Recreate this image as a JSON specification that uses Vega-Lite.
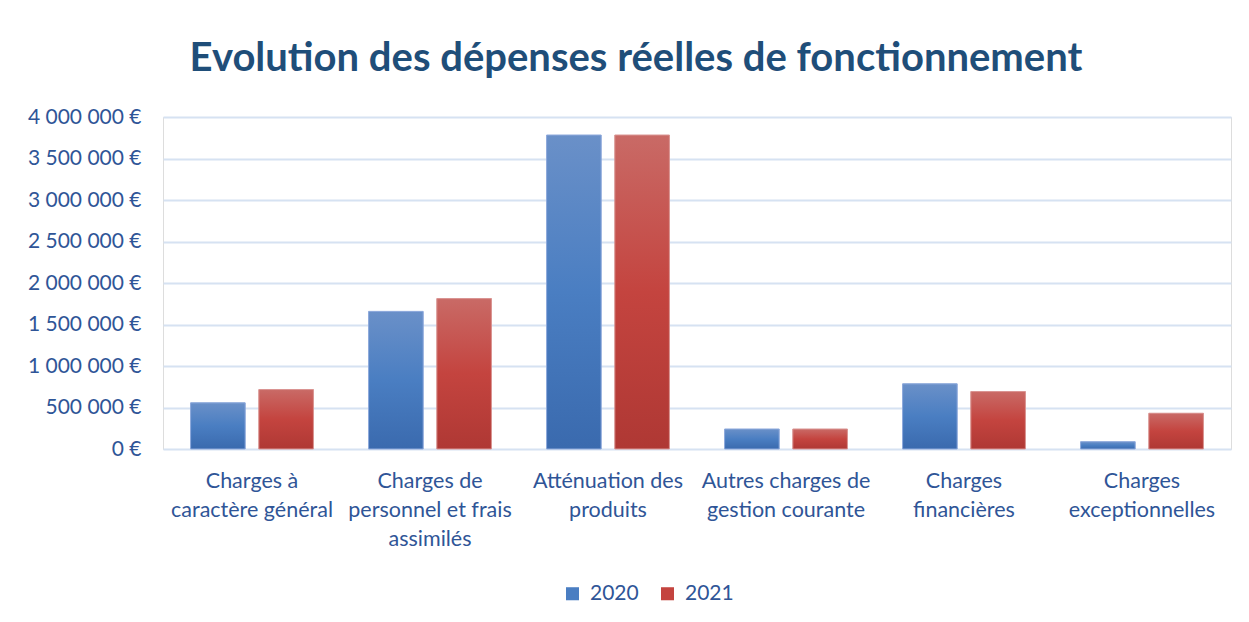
{
  "$schema": "https://vega.github.io/schema/vega-lite/v6.json",
  "width": 1068,
  "height": 332,
  "autosize": {"type": "none"},
  "padding": {"left": 163, "top": 117, "right": 18, "bottom": 173},
  "background": "white",
  "title": {
    "text": "Evolution des dépenses réelles de fonctionnement",
    "font": "Lato",
    "fontSize": 40,
    "fontWeight": "bold",
    "color": "#1F4E79",
    "anchor": "middle",
    "baseline": "alphabetic",
    "offset": 42,
    "dx": -61,
    "dy": 47
  },
  "data": {
    "values": [
      {"categorie": "Charges à\ncaractère général", "annee": "2020", "montant": 556000},
      {"categorie": "Charges à\ncaractère général", "annee": "2021", "montant": 716000},
      {"categorie": "Charges de\npersonnel et frais\nassimilés", "annee": "2020", "montant": 1658000},
      {"categorie": "Charges de\npersonnel et frais\nassimilés", "annee": "2021", "montant": 1812000},
      {"categorie": "Atténuation des\nproduits", "annee": "2020", "montant": 3783000},
      {"categorie": "Atténuation des\nproduits", "annee": "2021", "montant": 3783000},
      {"categorie": "Autres charges de\ngestion courante", "annee": "2020", "montant": 241000},
      {"categorie": "Autres charges de\ngestion courante", "annee": "2021", "montant": 241000},
      {"categorie": "Charges\nfinancières", "annee": "2020", "montant": 785000},
      {"categorie": "Charges\nfinancières", "annee": "2021", "montant": 692000},
      {"categorie": "Charges\nexceptionnelles", "annee": "2020", "montant": 88000},
      {"categorie": "Charges\nexceptionnelles", "annee": "2021", "montant": 431000}
    ]
  },
  "encoding": {
    "x": {
      "field": "categorie",
      "type": "nominal",
      "sort": null,
      "scale": {"paddingInner": 0.31, "paddingOuter": 0.155},
      "axis": {
        "title": null,
        "labelAngle": 0,
        "labelExpr": "split(datum.label, '\\n')",
        "labelFont": "Lato",
        "labelFontSize": 21.5,
        "labelColor": "#2F5597",
        "labelLineHeight": 29,
        "labelPadding": 21,
        "labelBaseline": "top",
        "domain": false,
        "ticks": false,
        "grid": false
      }
    },
    "xOffset": {"field": "annee", "type": "nominal", "scale": {"paddingInner": 0.2, "paddingOuter": 0}},
    "y": {
      "field": "montant",
      "type": "quantitative",
      "scale": {"domain": [0, 4000000], "nice": false},
      "axis": {
        "title": null,
        "values": [0, 500000, 1000000, 1500000, 2000000, 2500000, 3000000, 3500000, 4000000],
        "labelExpr": "replace(format(datum.value, ',.0f'), regexp(',', 'g'), ' ') + ' €'",
        "labelFont": "Lato",
        "labelFontSize": 21,
        "labelColor": "#2F5597",
        "labelPadding": 22,
        "domain": false,
        "ticks": false,
        "gridColor": "#D6E2F2",
        "gridWidth": 2
      }
    }
  },
  "layer": [
    {
      "mark": {"type": "bar"},
      "encoding": {
        "color": {
          "field": "annee",
          "type": "nominal",
          "scale": {"domain": ["2020", "2021"], "range": ["#4A7EC2", "#C4443F"]},
          "legend": {
            "title": null,
            "orient": "none",
            "legendX": 399,
            "legendY": 466,
            "direction": "horizontal",
            "symbolType": "square",
            "symbolSize": 170,
            "symbolStrokeWidth": 0,
            "labelFont": "Lato",
            "labelFontSize": 21,
            "labelColor": "#2F5597",
            "labelOffset": 7,
            "columnPadding": 18
          }
        }
      }
    },
    {
      "mark": {"type": "bar", "strokeWidth": 1},
      "encoding": {
        "fill": {
          "condition": {
            "test": "datum.annee === '2020'",
            "value": {
              "gradient": "linear", "x1": 0, "y1": 0, "x2": 0, "y2": 1,
              "stops": [
                {"offset": 0, "color": "#6A90C8"},
                {"offset": 0.5, "color": "#4A7EC2"},
                {"offset": 1, "color": "#3A6AAE"}
              ]
            }
          },
          "value": {
            "gradient": "linear", "x1": 0, "y1": 0, "x2": 0, "y2": 1,
            "stops": [
              {"offset": 0, "color": "#C96A66"},
              {"offset": 0.5, "color": "#C4443F"},
              {"offset": 1, "color": "#AF3834"}
            ]
          }
        },
        "stroke": {
          "condition": {"test": "datum.annee === '2020'", "value": "#8FAADC"},
          "value": "#DA9694"
        }
      }
    }
  ]
}
